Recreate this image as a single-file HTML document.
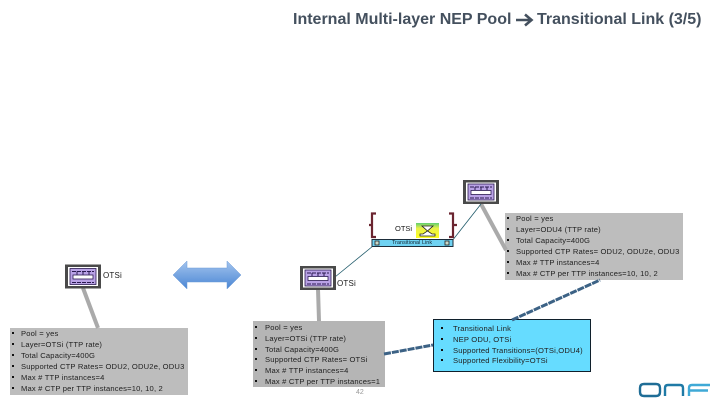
<!DOCTYPE html>
<html>
<head>
<meta charset="utf-8">
<style>
html,body{margin:0;padding:0;background:#fff;}
#p{position:relative;width:720px;height:405px;overflow:hidden;background:#fff;font-family:"Liberation Sans",sans-serif;}
svg{position:absolute;left:0;top:0;}
.t{position:absolute;white-space:nowrap;color:#1a1a1a;}
.box{position:absolute;box-sizing:border-box;}
.l{position:absolute;white-space:nowrap;font-size:7.6px;letter-spacing:.18px;color:#222;line-height:11px;}
.l:before{content:"";position:absolute;left:1px;top:4px;width:2px;height:2px;background:#111;}
</style>
</head>
<body>
<div id="p">
<div class="t" style="left:293px;top:10px;font-size:16px;font-weight:bold;color:#44505e;line-height:20px;">Internal Multi-layer NEP Pool</div>
<div class="t" style="left:537px;top:10px;font-size:16px;font-weight:bold;color:#44505e;line-height:20px;">Transitional Link (3/5)</div>

<div class="box" style="left:10px;top:328px;width:178px;height:67px;background:#bdbdbd;"></div>
<div class="box" style="left:253px;top:321px;width:132px;height:66px;background:#b5b5b5;"></div>
<div class="box" style="left:505px;top:213px;width:178px;height:67px;background:#bdbdbd;"></div>
<div class="box" style="left:433px;top:319px;width:158px;height:53px;background:#66dcff;border:1px solid #10202c;"></div>

<svg width="720" height="405" viewBox="0 0 720 405">
<defs>
<linearGradient id="a" x1="0" y1="0" x2="0" y2="1"><stop offset="0" stop-color="#a3c4ee"/><stop offset="1" stop-color="#4a86d4"/></linearGradient>
<linearGradient id="y" x1="0" y1="0" x2="0" y2="1"><stop offset="0" stop-color="#5fcf70"/><stop offset=".35" stop-color="#e8f04a"/><stop offset="1" stop-color="#ffff20"/></linearGradient>
<g id="n">
<rect x="0" y="0" width="36" height="24" fill="#4a4a4a"/>
<rect x="3" y="2.500" width="30" height="19" fill="#fff"/>
<rect x="5" y="4" width="26" height="16" fill="#b9a2e6" stroke="#2a1a50" stroke-width=".8"/>
<path d="M7 7H29M7 18H29M12 7V10M18 7V10M24 7V10" stroke="#2a1a50" stroke-width="1" fill="none" stroke-dasharray="4 1"/>
<rect x="8" y="10.500" width="20" height="4" fill="#fff" stroke="#2a1a50" stroke-width=".8"/>
</g>
</defs>
<line x1="83" y1="288" x2="98" y2="328" stroke="#aaa" stroke-width="4"/>
<line x1="318" y1="289" x2="319" y2="321" stroke="#aaa" stroke-width="4"/>
<line x1="481" y1="204" x2="506" y2="250" stroke="#aaa" stroke-width="4"/>
<line x1="335" y1="277" x2="373" y2="246" stroke="#1f5a6a" stroke-width=".8"/>
<line x1="452" y1="241" x2="481" y2="204" stroke="#1f5a6a" stroke-width=".8"/>
<line x1="384" y1="354" x2="433" y2="345" stroke="#3c6285" stroke-width="3" stroke-dasharray="7 1"/>
<line x1="512" y1="320" x2="600" y2="280" stroke="#3c6285" stroke-width="3" stroke-dasharray="7 1"/>
<path d="M173 275L187 261V268H227V261L241 275L227 289V282H187V289Z" fill="url(#a)" stroke="#6d9ad6" stroke-width=".5"/>
<use href="#n" x="65" y="264.500"/>
<use href="#n" x="300" y="266"/>
<use href="#n" x="463" y="180"/>
<path d="M376 213.500H372V225H369M372 225V237H376" fill="none" stroke="#6b2530" stroke-width="2.200"/>
<path d="M449 213.500H453V225H457M453 225V237H449" fill="none" stroke="#6b2530" stroke-width="2.200"/>
<rect x="416" y="223" width="23" height="15" fill="url(#y)"/>
<path d="M422 226H433L427.500 231L432 234H435V236H420V234H423L427.500 231Z" fill="#fff" stroke="#222" stroke-width=".8"/>
<rect x="372" y="239.500" width="81" height="7" fill="#6fd2f2" stroke="#1d2d3a" stroke-width="1"/>
<rect x="375" y="241" width="4" height="4" fill="#c8d8c8" stroke="#222" stroke-width=".8"/>
<rect x="445" y="241" width="4" height="4" fill="#c8d8c8" stroke="#222" stroke-width=".8"/>
<path d="M640 388Q640 384 644 384H656Q660 384 660 388V392Q660 396 656 396H644Q640 396 640 392Z" fill="none" stroke="#1f6d96" stroke-width="2.400"/>
<path d="M665 396V388Q665 385 668 385H680Q683 385 683 388V396" fill="none" stroke="#1f7aa6" stroke-width="2.400"/>
<path d="M689 396V388Q689 385 692 385H710M689 390.500H708" fill="none" stroke="#3fa9d6" stroke-width="2.400"/>
<path d="M516 20H531M525 14.500L531.500 20L525 25.500" fill="none" stroke="#44505e" stroke-width="2.600"/>
</svg>

<div class="t" style="left:103px;top:271px;font-size:8px;letter-spacing:.2px;">OTSi</div>
<div class="t" style="left:337px;top:279px;font-size:8px;letter-spacing:.2px;">OTSi</div>
<div class="t" style="left:395px;top:224px;font-size:7.500px;">OTSi</div>
<div class="t" style="left:392px;top:240px;font-size:5.300px;line-height:7px;letter-spacing:.1px;color:#10202c;">Transitional Link</div>
<div class="t" style="left:356px;top:389px;font-size:7px;color:#999;">42</div>

<div class="l" style="left:11px;top:328px;padding-left:10px;">Pool = yes</div>
<div class="l" style="left:11px;top:338.500px;padding-left:10px;">Layer=OTSi (TTP rate)</div>
<div class="l" style="left:11px;top:350px;padding-left:10px;">Total Capacity=400G</div>
<div class="l" style="left:11px;top:361px;padding-left:10px;">Supported CTP Rates= ODU2, ODU2e, ODU3</div>
<div class="l" style="left:11px;top:372px;padding-left:10px;">Max # TTP instances=4</div>
<div class="l" style="left:11px;top:383px;padding-left:10px;">Max # CTP per TTP instances=10, 10, 2</div>

<div class="l" style="left:254px;top:322px;padding-left:11px;">Pool = yes</div>
<div class="l" style="left:254px;top:332.500px;padding-left:11px;">Layer=OTSi (TTP rate)</div>
<div class="l" style="left:254px;top:343.500px;padding-left:11px;">Total Capacity=400G</div>
<div class="l" style="left:254px;top:354px;padding-left:11px;">Supported CTP Rates= OTSi</div>
<div class="l" style="left:254px;top:365px;padding-left:11px;">Max # TTP instances=4</div>
<div class="l" style="left:254px;top:376px;padding-left:11px;">Max # CTP per TTP instances=1</div>

<div class="l" style="left:506px;top:213px;padding-left:10px;">Pool = yes</div>
<div class="l" style="left:506px;top:224px;padding-left:10px;">Layer=ODU4 (TTP rate)</div>
<div class="l" style="left:506px;top:235px;padding-left:10px;">Total Capacity=400G</div>
<div class="l" style="left:506px;top:246px;padding-left:10px;">Supported CTP Rates= ODU2, ODU2e, ODU3</div>
<div class="l" style="left:506px;top:257px;padding-left:10px;">Max # TTP instances=4</div>
<div class="l" style="left:506px;top:268px;padding-left:10px;">Max # CTP per TTP instances=10, 10, 2</div>

<div class="l" style="left:440px;top:323px;padding-left:13px;">Transitional Link</div>
<div class="l" style="left:440px;top:334px;padding-left:13px;">NEP ODU, OTSi</div>
<div class="l" style="left:440px;top:344.500px;padding-left:13px;">Supported Transitions=(OTSi,ODU4)</div>
<div class="l" style="left:440px;top:355px;padding-left:13px;">Supported Flexibility=OTSi</div>
</div>
</body>
</html>
